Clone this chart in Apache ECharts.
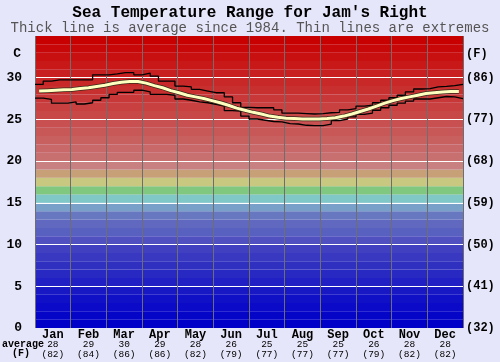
<!DOCTYPE html>
<html>
<head>
<meta charset="utf-8">
<script src="https://cdn.jsdelivr.net/npm/echarts@6/dist/echarts.min.js"></script>
<style>
html,body{margin:0;padding:0;background:#e6e6fa;}
#chart{width:500px;height:362px;}
</style>
</head>
<body>
<div id="chart"></div>
<script>
// ---- data ----
const months = ['Jan','Feb','Mar','Apr','May','Jun','Jul','Aug','Sep','Oct','Nov','Dec'];
const monthAvgC = [28,29,30,29,28,26,25,25,25,26,28,28];
const monthAvgF = [82,84,86,86,82,79,77,77,77,79,82,82];
const tickC = [0,5,10,15,20,25,30];
const tickF = ['(32)','(41)','(50)','(59)','(68)','(77)','(86)'];
// weekly values (52 weeks), degrees C
const weeklyMax = [29.2,29.6,29.75,29.75,29.75,29.75,29.75,30.35,30.35,30.45,30.6,30.6,30.35,30.55,30.2,29.6,29.6,29.0,28.9,28.6,28.4,28.2,28.2,27.7,27.0,26.45,26.4,26.4,26.4,26.15,25.75,25.75,25.7,25.65,25.7,25.8,25.85,26.15,26.3,26.6,26.7,27.0,27.3,27.6,27.9,28.3,28.65,28.7,28.9,28.95,29.05,29.2];
const weeklyAvg = [28.4,28.45,28.5,28.55,28.6,28.7,28.8,28.95,29.1,29.3,29.45,29.55,29.55,29.35,29.05,28.8,28.45,28.2,27.9,27.7,27.5,27.25,27.0,26.7,26.35,26.1,25.85,25.65,25.4,25.25,25.15,25.1,25.05,25.05,25.05,25.1,25.2,25.4,25.65,25.95,26.25,26.6,26.95,27.25,27.5,27.7,27.9,28.1,28.2,28.3,28.35,28.35];
const weeklyMin = [27.55,27.4,26.95,26.95,27.1,26.85,27.0,27.3,27.6,28.0,28.25,28.25,28.5,28.3,28.0,28.0,27.9,27.45,27.3,27.1,27.0,26.8,26.6,26.05,26.0,25.4,25.05,24.9,24.75,24.7,24.5,24.45,24.3,24.25,24.25,24.45,24.85,25.05,25.3,25.6,25.75,26.1,26.4,26.7,26.95,27.2,27.45,27.45,27.6,27.75,27.7,27.5];

// ---- styles ----
const bandColors = ['#0000c8','#0505c8','#0a0ac8','#1010c6','#1818c4','#2020c4','#2828c2','#3030c0','#3838c0','#4040c0',
  '#5050c0','#5860c0','#6068c0','#6878c0','#78a0c8','#80c8c8','#80c880','#c8c880','#c8a078','#c88080',
  '#c87070','#c86868','#c86060','#c85858','#c85050','#c84848','#c84040','#c83838','#c83030','#c82828',
  '#c82020','#c81818','#c81010','#c80808','#c80000'];
const FONT = 'Liberation Mono';

const stepData = arr => arr.map((v,i)=>[i,v]).concat([[arr.length, arr[arr.length-1]]]);
const avgData = weeklyAvg.map((v,i)=>[i+0.5,v]);

const chart = echarts.init(document.getElementById('chart'), null, {renderer:'canvas'});
chart.setOption({
  backgroundColor:'#e6e6fa',
  animation:false,
  title:[
    {text:"Sea Temperature Range for Jam's Right", left:'center', top:5, padding:0,
     textStyle:{fontFamily:FONT, fontSize:16, fontWeight:'bold', color:'#000', lineHeight:16}},
    {text:'Thick line is average since 1984. Thin lines are extremes', left:'center', top:21, padding:0,
     textStyle:{fontFamily:FONT, fontSize:14, fontWeight:'normal', color:'#555', lineHeight:14}}
  ],
  grid:{left:35, right:37, top:36, bottom:34},
  xAxis:[
    {type:'category', data:months, boundaryGap:true, position:'bottom',
     axisLine:{show:false}, axisTick:{show:false},
     splitLine:{show:true, interval:0, lineStyle:{color:'#6e6e6e', width:1}},
     axisLabel:{interval:0, margin:1, color:'#000', fontFamily:FONT,
       formatter:(val, idx)=>'{m|'+val+'}\n{v|'+monthAvgC[idx]+'}\n{v|('+monthAvgF[idx]+')}',
       rich:{m:{fontFamily:FONT, fontSize:12, fontWeight:'bold', lineHeight:11, color:'#000'},
             v:{fontFamily:FONT, fontSize:9.5, lineHeight:9.5, color:'#000'}}}},
    {type:'value', min:0, max:52, show:false}
  ],
  yAxis:[
    {type:'value', min:0, max:35, interval:1, position:'left', z:-1,
     axisLine:{show:false}, axisTick:{show:false}, axisLabel:{show:false},
     splitLine:{show:false},
     splitArea:{show:true, areaStyle:{color:bandColors, opacity:1}}},
    {type:'value', min:0, max:35, interval:5, position:'left',
     name:'C', nameLocation:'end', nameGap:-24,
     nameTextStyle:{fontFamily:FONT, fontSize:13, fontWeight:'bold', color:'#000', align:'right', padding:[0,14,0,0]},
     axisLine:{show:false}, axisTick:{show:false},
     axisLabel:{showMaxLabel:false, margin:13, fontFamily:FONT, fontSize:13, fontWeight:'bold', color:'#000',
       formatter:v=>{const i=tickC.indexOf(v);return i>=0?String(tickC[i]):'';}},
     splitLine:{show:true, showMinLine:false, showMaxLine:false, lineStyle:{color:'#ffffff', width:1}}},
    {type:'value', min:0, max:35, interval:5, position:'right',
     name:'(F)', nameLocation:'end', nameGap:-24,
     nameTextStyle:{fontFamily:FONT, fontSize:12, fontWeight:'bold', color:'#000', align:'left', padding:[0,0,0,3]},
     axisLine:{show:false}, axisTick:{show:false}, splitLine:{show:false},
     axisLabel:{showMaxLabel:false, margin:3, fontFamily:FONT, fontSize:12, fontWeight:'bold', color:'#000',
       formatter:v=>{const i=tickC.indexOf(v);return i>=0?tickF[i]:'';}}}
  ],
  graphic:[
    {type:'text', left:2, top:339, style:{text:'average', fontFamily:FONT, fontSize:10, fontWeight:'bold', fill:'#000'}},
    {type:'text', left:12, top:348, style:{text:'(F)', fontFamily:FONT, fontSize:10, fontWeight:'bold', fill:'#000'}}
  ],
  series:[
    {name:'max', type:'line', xAxisIndex:1, yAxisIndex:1, data:stepData(weeklyMax), step:'end',
     symbol:'none', lineStyle:{color:'#000', width:1.3}, z:3},
    {name:'min', type:'line', xAxisIndex:1, yAxisIndex:1, data:stepData(weeklyMin), step:'end',
     symbol:'none', lineStyle:{color:'#000', width:1.3}, z:3},
    {name:'avgEdge', type:'line', xAxisIndex:1, yAxisIndex:1, data:avgData,
     symbol:'none', lineStyle:{color:'#3a2a1a', width:4.5}, z:4},
    {name:'avg', type:'line', xAxisIndex:1, yAxisIndex:1, data:avgData,
     symbol:'none', lineStyle:{color:'#ffffc0', width:3}, z:5}
  ]
});
</script>
</body>
</html>
